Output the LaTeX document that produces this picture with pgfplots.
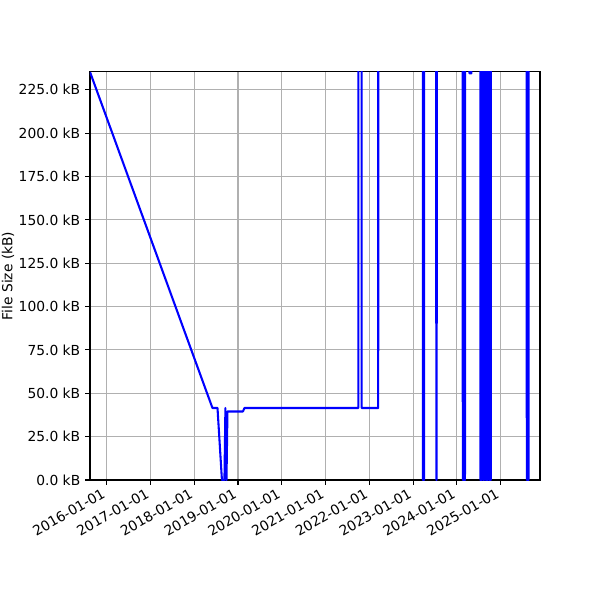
\documentclass[border=0pt]{standalone}
\usepackage{fontspec}
\setmainfont{DejaVu Sans}
\usepackage{pgfplots}
\pgfplotsset{compat=1.18}

% x values: days counted from 2016-01-01
\begin{document}
\begin{tikzpicture}
\begin{axis}[
  at={(0,0)}, anchor=south west,
  scale only axis,
  width=325.2pt, height=294.9pt,
  xmin=-139, xmax=3616,
  ymin=0, ymax=235.3,
  axis line style={line width=0.8pt},
  tick align=outside,
  major tick length=3.5pt,
  every tick/.style={black, line width=0.8pt},
  xtick pos=bottom, ytick pos=left,
  xtick={0,366,731,1096,1461,1827,2192,2557,2922,3288},
  xticklabels={2016-01-01,2017-01-01,2018-01-01,2019-01-01,2020-01-01,2021-01-01,2022-01-01,2023-01-01,2024-01-01,2025-01-01},
  xticklabel style={rotate=30, anchor=south east, font=\fontsize{10}{12}\selectfont, inner sep=1pt, xshift=1.5pt},
  xticklabel shift=9.8pt,
  ytick={0,25,50,75,100,125,150,175,200,225},
  yticklabels={0.0 kB,25.0 kB,50.0 kB,75.0 kB,100.0 kB,125.0 kB,150.0 kB,175.0 kB,200.0 kB,225.0 kB},
  yticklabel style={font=\fontsize{10}{12}\selectfont},
  grid=major,
  major grid style={color=black!31, line width=0.8pt},
  ylabel={File Size (kB)},
  every axis y label/.style={at={(axis description cs:-0.182,0.5)}, rotate=90, anchor=center, font=\fontsize{10}{12}\selectfont},
]
\addplot[color=blue, line width=1.5pt, mark=none, line join=round] table {
x y
-139 235.3
883 41.5
925 41.5
962 0
983 0
991 41.5
1000 0
1008 39.5
1137 39.5
1150 41.5
2100 41.5
2103 1000
2125 1000
2128 41.5
2266 41.5
2269 1000
2636 1000
2639 0
2649 0
2652 1000
2748 1000
2751 0
2754 0
2757 1000
2969 1000
2972 0
2990 0
2993 1000
3026 1000
3028 234.5
3044 234.5
3046 1000
3117 1000
3119 0
3128 0
3130 1000
3140 1000
3142 0
3150 0
3152 1000
3162 1000
3164 0
3181 0
3183 1000
3192 1000
3194 0
3205 0
3207 1000
3504 1000
3506 0
3521 0
3523 1000
3616 1000
};
\end{axis}
\pgfresetboundingbox
\useasboundingbox (-65.04pt,-86.72pt) rectangle (368.58pt,346.9pt);
\end{tikzpicture}
\end{document}
